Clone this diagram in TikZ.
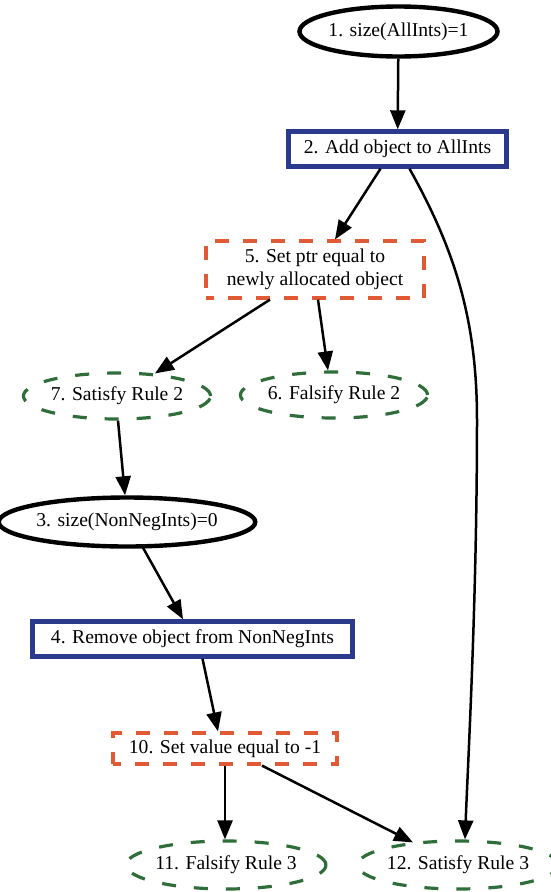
\documentclass[tikz,border=0pt]{standalone}
\usepackage{fontspec}
\setmainfont{Liberation Serif}
\usetikzlibrary{shapes.geometric,arrows.meta}
\definecolor{stepblue}{HTML}{2B3A8C}
\definecolor{actred}{HTML}{E05A36}
\definecolor{rulegreen}{HTML}{2F6E3A}
\tikzset{
  every node/.style={font=\fontsize{19.6}{22.5}\selectfont, inner sep=0pt, text=black},
  condnode/.style={ellipse, draw=black, line width=4.4pt},
  stepbox/.style={rectangle, draw=stepblue, line width=4.4pt},
  actbox/.style={rectangle, draw=actred, line width=3.2pt, dash pattern=on 14pt off 14pt, dash phase=6pt, align=center},
  rulenode/.style={ellipse, draw=rulegreen, line width=3.2pt, dash pattern=on 14pt off 18pt},
  link/.style={draw=black, line width=2.5pt, -{Triangle[length=19pt,width=15pt]}},
}
\begin{document}
\begin{tikzpicture}[x=1pt,y=-1pt]
\useasboundingbox (0,0) rectangle (550,892);

% condition and step nodes
\node[condnode, minimum width=184pt, minimum height=50pt] (n1) at (398.5,31.5) {1. size(AllInts)=1};
\node[stepbox, minimum width=218pt, minimum height=35pt] (n2) at (397.5,149) {2. Add object to AllInts};
\node[actbox, minimum width=218pt, minimum height=57pt] (n5) at (315,269.5) {5. Set ptr equal to\\newly allocated object};
\node[rulenode, minimum width=184pt, minimum height=46pt] (n7) at (117,396) {7. Satisfy Rule 2};
\node[rulenode, minimum width=175pt, minimum height=46pt] (n6) at (334,395) {6. Falsify Rule 2};
\node[condnode, minimum width=225pt, minimum height=49pt] (n3) at (127,522) {3. size(NonNegInts)=0};
\node[stepbox, minimum width=320pt, minimum height=35pt] (n4) at (192.5,639) {4. Remove object from NonNegInts};
\node[actbox, minimum width=224pt, minimum height=31pt] (n10) at (225,748.5) {10. Set value equal to -1};
\node[rulenode, minimum width=184pt, minimum height=48pt] (n11) at (226,865) {11. Falsify Rule 3};
\node[rulenode, minimum width=178pt, minimum height=48pt] (n12) at (458,865) {12. Satisfy Rule 3};

% connectors
\draw[link] (n1) -- (n2);
\draw[link] ([xshift=-17pt]n2.south) -- ([xshift=20pt]n5.north);
\draw[link] ([xshift=12pt]n2.south) .. controls (455,250) and (477,320) .. (477,420)
            .. controls (477,600) and (468,760) .. ([xshift=7pt]n12.north);
\draw[link] ([xshift=-45pt]n5.south) -- ([xshift=38pt,yshift=-2pt]n7.north);
\draw[link] ([xshift=3pt]n5.south) -- ([xshift=-6pt]n6.north);
\draw[link] ([xshift=1pt]n7.south) -- ([xshift=-2pt]n3.north);
\draw[link] ([xshift=16pt,yshift=1pt]n3.south) -- ([xshift=-9.5pt]n4.north);
\draw[link] ([xshift=10pt]n4.south) -- ([xshift=-7pt]n10.north);
\draw[link] (n10.south) -- ([xshift=-1pt]n11.north);
\draw[link] ([xshift=37pt]n10.south) -- ([xshift=-45pt,yshift=-3pt]n12.north);
\end{tikzpicture}
\end{document}
